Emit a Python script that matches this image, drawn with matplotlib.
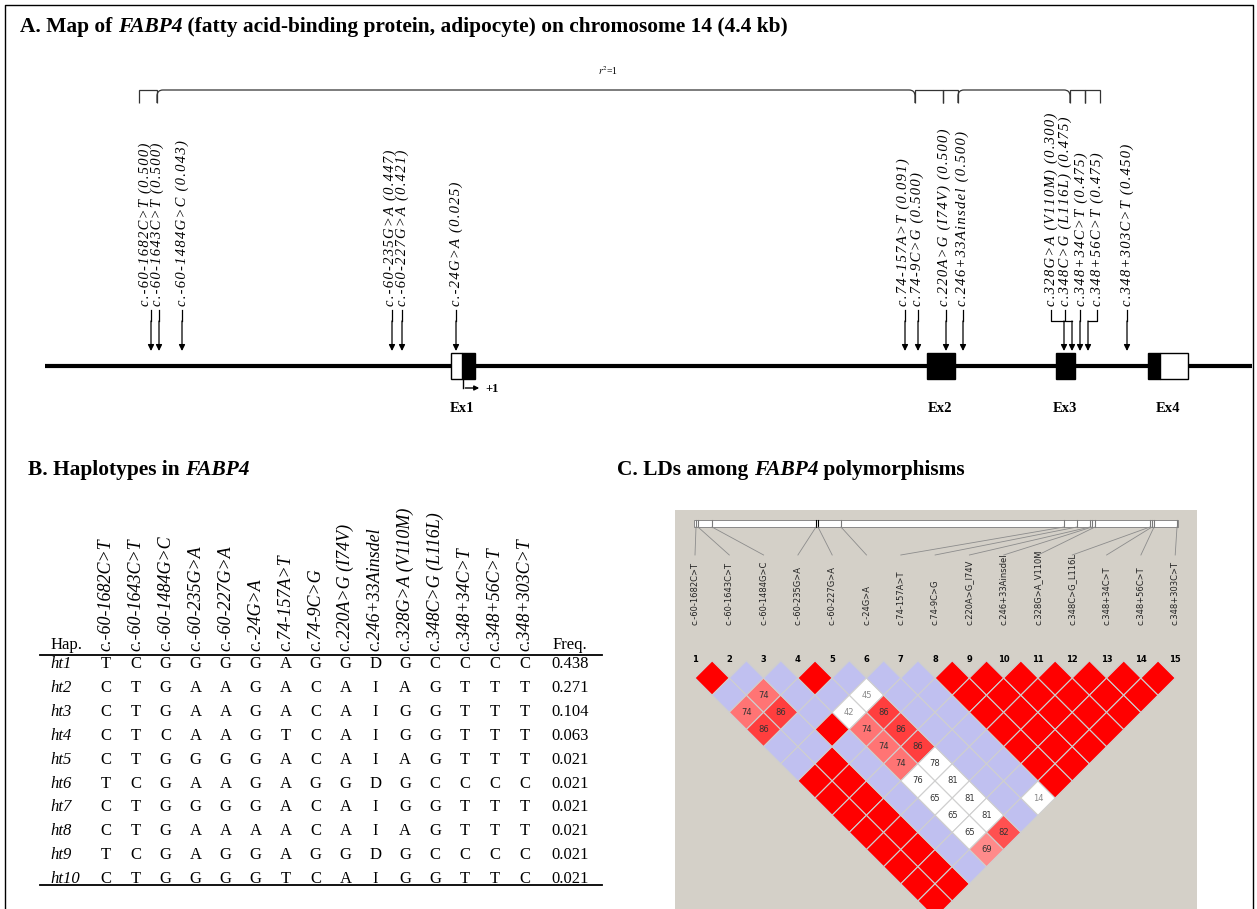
import matplotlib.pyplot as plt
from matplotlib.patches import Rectangle, Polygon, PathPatch
from matplotlib.path import Path

plt.rcParams['font.family'] = ['Liberation Serif', 'DejaVu Serif']
plt.rcParams['mathtext.fontset'] = 'stix'

# SNPs along FABP4 (5' -> 3') and their minor allele frequencies
snp_names = ['c.-60-1682C>T', 'c.-60-1643C>T', 'c.-60-1484G>C', 'c.-60-235G>A',
             'c.-60-227G>A', 'c.-24G>A', 'c.74-157A>T', 'c.74-9C>G',
             'c.220A>G (I74V)', 'c.246+33Ainsdel', 'c.328G>A (V110M)',
             'c.348C>G (L116L)', 'c.348+34C>T', 'c.348+56C>T', 'c.348+303C>T']
allele_freq = [0.500, 0.500, 0.043, 0.447, 0.421, 0.025, 0.091, 0.500, 0.500,
               0.500, 0.300, 0.475, 0.475, 0.475, 0.450]

# gene map (pixel positions along the drawn chromosome)
map_label_x = [145, 157, 182, 390, 402, 456, 903, 917, 944, 962, 1051, 1065, 1081, 1097, 1127]
map_arrow_x = [151, 159, 182, 392, 402, 456, 905, 918, 946, 963, 1064, 1072, 1080, 1088, 1127]
exon_names = ['Ex1', 'Ex2', 'Ex3', 'Ex4']
exon_label_x = [462, 940, 1065, 1168]
exon_coding = [(462, 475), (927, 955), (1056, 1075), (1148, 1160)]
exon_utr = [(451, 462), (1160, 1188)]
# SNPs joined by r2 = 1 brackets
r2_group_x = [139, 157, 915, 943, 958, 1070, 1085, 1100]

# haplotypes
hap_names = ['ht1', 'ht2', 'ht3', 'ht4', 'ht5', 'ht6', 'ht7', 'ht8', 'ht9', 'ht10']
hap_alleles = ['TCGGGGAGGDGCCCC', 'CTGAAGACAIAGTTT', 'CTGAAGACAIGGTTT',
               'CTCAAGTCAIGGTTT', 'CTGGGGACAIAGTTT', 'TCGAAGAGGDGCCCC',
               'CTGGGGACAIGGTTT', 'CTGAAAACAIAGTTT', 'TCGAGGAGGDGCCCC',
               'CTGGGGTCAIGGTTC']
hap_freq = [0.438, 0.271, 0.104, 0.063, 0.021, 0.021, 0.021, 0.021, 0.021, 0.021]

# pairwise D' (x100) for SNP i vs SNP j>i, and whether LOD >= 2
ld_dprime = [
    [100, 100, 74, 86, 100, 100, 100, 100, 100, 100, 100, 100, 100, 100],
    [100, 74, 86, 100, 100, 100, 100, 100, 100, 100, 100, 100, 100],
    [100, 100, 100, 100, 100, 100, 100, 100, 100, 100, 100, 100],
    [100, 100, 42, 74, 74, 74, 76, 65, 65, 65, 69],
    [100, 45, 86, 86, 86, 78, 81, 81, 81, 82],
    [100, 100, 100, 100, 100, 100, 100, 100, 100],
    [100, 100, 100, 100, 100, 100, 100, 14],
    [100, 100, 100, 100, 100, 100, 100],
    [100, 100, 100, 100, 100, 100],
    [100, 100, 100, 100, 100],
    [100, 100, 100, 100],
    [100, 100, 100],
    [100, 100],
    [100],
]
ld_lod_strong = [
    [1, 0, 1, 1, 0, 0, 1, 1, 1, 1, 1, 1, 1, 1],
    [0, 1, 1, 0, 0, 1, 1, 1, 1, 1, 1, 1, 1],
    [0, 0, 0, 1, 0, 0, 0, 0, 0, 0, 0, 0],
    [1, 0, 0, 1, 1, 1, 0, 0, 0, 0, 1],
    [0, 0, 1, 1, 1, 0, 0, 0, 0, 1],
    [0, 0, 0, 0, 0, 0, 0, 0, 0],
    [0, 0, 0, 0, 0, 0, 0, 0],
    [1, 1, 1, 1, 1, 1, 1],
    [1, 1, 1, 1, 1, 1],
    [1, 1, 1, 1, 1],
    [1, 1, 1, 1],
    [1, 1, 1],
    [1, 1],
    [1],
]
ld_bar_x = [696, 698, 712, 816, 818, 841, 1064, 1077, 1090, 1092, 1095, 1150, 1152, 1154, 1177]

W, H = 1257, 909
fig = plt.figure(figsize=(W / 100, H / 100), dpi=100)
ax = fig.add_axes([0, 0, 1, 1])
ax.set_xlim(0, W)
ax.set_ylim(H, 0)
ax.axis('off')
renderer = fig.canvas.get_renderer()
TITLE_SIZE = 15.4


def rich_text(x, y, parts, **kw):
    for s, style in parts:
        t = ax.text(x, y, s, fontstyle=style, **kw)
        x += t.get_window_extent(renderer).width


def spaced(s):
    # hair spaces between characters for the loosely set map labels
    return '\u200a'.join(s)


# outer frame
ax.plot([5, 5, 1253, 1253], [H, 5, 5, H], color='black', lw=1)

# ---------- A. gene map ----------
rich_text(20, 27, [('A. Map of ', 'normal'), ('FABP4', 'italic'),
                   (' (fatty acid-binding protein, adipocyte) on chromosome 14 (4.4 kb)', 'normal')],
          fontsize=TITLE_SIZE, fontweight='bold', va='center')
ax.text(608, 71, r'$r^2$=1', fontsize=7, ha='center', va='center')

y_top, y_bot, rad = 90, 103, 6
for xa, xb in zip(r2_group_x[:-1], r2_group_x[1:]):
    if xb - xa > 60:
        verts = [(xa, y_bot), (xa, y_top + rad), (xa, y_top), (xa + rad, y_top),
                 (xb - rad, y_top), (xb, y_top), (xb, y_top + rad), (xb, y_bot)]
        codes = [Path.MOVETO, Path.LINETO, Path.CURVE3, Path.CURVE3,
                 Path.LINETO, Path.CURVE3, Path.CURVE3, Path.LINETO]
    else:
        verts = [(xa, y_bot), (xa, y_top), (xb, y_top), (xb, y_bot)]
        codes = [Path.MOVETO] + [Path.LINETO] * 3
    ax.add_patch(PathPatch(Path(verts, codes), fill=False, ec='#333333', lw=0.9))

ax.plot([45, 1252], [366, 366], color='black', lw=3, solid_capstyle='butt', zorder=2)
for x0, x1 in exon_coding:
    ax.add_patch(Rectangle((x0, 353), x1 - x0, 26, fc='black', ec='black', lw=1, zorder=3))
for x0, x1 in exon_utr:
    ax.add_patch(Rectangle((x0, 353), x1 - x0, 26, fc='white', ec='black', lw=1, zorder=3))
for name, x in zip(exon_names, exon_label_x):
    ax.text(x, 409, name, fontsize=10.5, fontweight='bold', ha='center', va='center')
# transcription start
ax.plot([463, 463], [379, 388], color='black', lw=1)
ax.annotate('', xy=(482, 388), xytext=(462.5, 388),
            arrowprops=dict(arrowstyle='-|>', color='black', lw=1, mutation_scale=7))
ax.text(485, 389, '+1', fontsize=9, fontweight='bold', va='center')

for name, f, lx, axx in zip(snp_names, allele_freq, map_label_x, map_arrow_x):
    ax.text(lx, 306, spaced(f'{name} ({f:.3f})'), rotation=90, fontsize=10.5,
            fontstyle='italic', ha='center', va='bottom')
    if abs(lx - axx) > 6:
        # SNPs crowded around exon 3 get a kinked leader
        ax.plot([lx, lx, axx], [310, 321, 321], color='black', lw=0.9)
    else:
        ax.plot([axx, axx], [310, 321], color='black', lw=0.9)
    ax.annotate('', xy=(axx, 351), xytext=(axx, 321),
                arrowprops=dict(arrowstyle='-|>', color='black', lw=0.9, mutation_scale=9,
                                shrinkA=0, shrinkB=0))

# ---------- B. haplotype table ----------
rich_text(28, 470, [('B. Haplotypes in ', 'normal'), ('FABP4', 'italic')],
          fontsize=TITLE_SIZE, fontweight='bold', va='center')
col_x = [106 + 29.93 * k for k in range(len(snp_names))]
for name, x in zip(snp_names, col_x):
    ax.text(x, 651, name, rotation=90, fontsize=13, fontstyle='italic', ha='center', va='bottom')
ax.text(67, 645, 'Hap.', fontsize=12, ha='center', va='center')
ax.text(570, 645, 'Freq.', fontsize=12, ha='center', va='center')
ax.plot([40, 602], [655, 655], color='black', lw=1.3)
row_y = [664 + 23.9 * r for r in range(len(hap_names))]
for name, alleles, f, y in zip(hap_names, hap_alleles, hap_freq, row_y):
    ax.text(50, y, name, fontsize=12, fontstyle='italic', va='center')
    for a, x in zip(alleles, col_x):
        ax.text(x, y, a, fontsize=12, ha='center', va='center')
    ax.text(570, y, f'{f:.3f}', fontsize=12, ha='center', va='center')
ax.plot([40, 602], [885, 885], color='black', lw=1.3)

# ---------- C. LD plot ----------
rich_text(617, 470, [('C. LDs among ', 'normal'), ('FABP4', 'italic'), (' polymorphisms', 'normal')],
          fontsize=TITLE_SIZE, fontweight='bold', va='center')
ax.add_patch(Rectangle((675, 510), 522, 420, fc='#D4D0C8', ec='none', zorder=0))

ld_x0, ld_dx, ld_y0 = 695, 34.3, 678
mk_x = [ld_x0 + k * ld_dx for k in range(len(snp_names))]
ax.add_patch(Rectangle((694, 520), 484, 7, fc='white', ec='#7A7A7A', lw=0.6))
for k, bx in enumerate(ld_bar_x):
    ax.plot([bx, bx], [520, 527], color='black' if k in (3, 4) else '#7A7A7A', lw=0.8)
    ax.plot([bx, mk_x[k]], [527, 555], color='#8C8C8C', lw=0.6)
    label = snp_names[k].replace(' (', '_').replace(')', '')
    ax.text(mk_x[k], 625, label, rotation=90, fontsize=6.0, family='DejaVu Sans',
            color='#222222', ha='center', va='bottom')
    ax.text(mk_x[k], 659, str(k + 1), fontsize=6, family='DejaVu Sans', fontweight='bold',
            ha='center', va='center')


def ld_colour(d, strong):
    if strong:
        if d >= 100:
            return (1.0, 0.0, 0.0)
        g = min(255.0, 2 * 223 * (1 - d / 100)) / 255
        return (1.0, g, g)
    return (0.753, 0.753, 0.941) if d >= 100 else (1.0, 1.0, 1.0)


half = ld_dx / 2
for i, (drow, lrow) in enumerate(zip(ld_dprime, ld_lod_strong)):
    for k, (d, strong) in enumerate(zip(drow, lrow)):
        j = i + 1 + k
        cx = ld_x0 + (i + j) / 2 * ld_dx
        cy = ld_y0 + (j - i - 1) * half
        ax.add_patch(Polygon([(cx, cy - half), (cx + half, cy), (cx, cy + half), (cx - half, cy)],
                             closed=True, fc=ld_colour(d, strong), ec='#CFCFCF', lw=0.8))
        if d < 100:
            tc = '#333333' if (strong or d >= 50) else '#8A8A8A'
            ax.text(cx, cy, str(d), fontsize=6, family='DejaVu Sans', color=tc,
                    ha='center', va='center')

fig.savefig('out.png', dpi=100)
